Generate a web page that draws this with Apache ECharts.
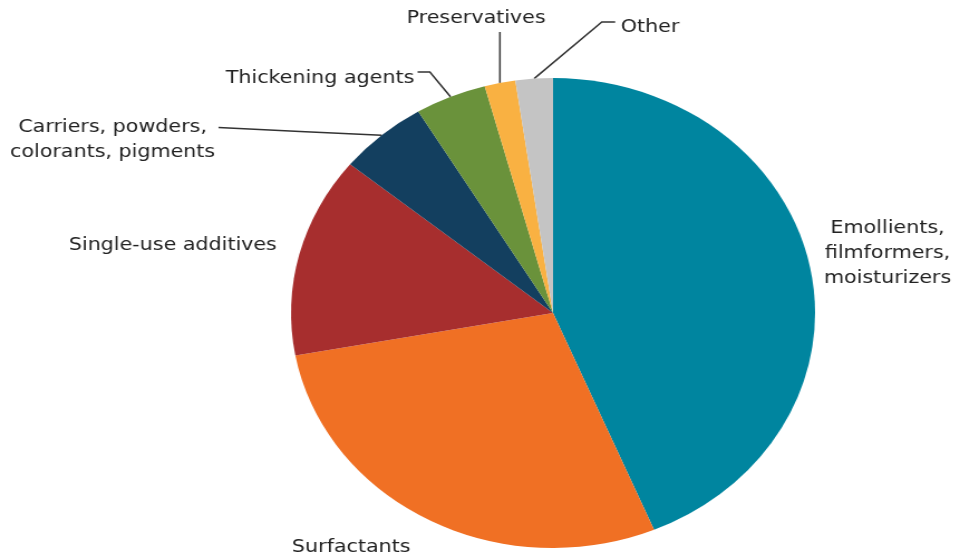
<!DOCTYPE html>
<html>
<head>
<meta charset="utf-8">
<script src="https://cdn.jsdelivr.net/npm/echarts@6/dist/echarts.min.js"></script>
<style>
  html, body { margin: 0; padding: 0; background: #ffffff; overflow: hidden; }
  #wrap { width: 961px; height: 556px; overflow: hidden; }
  #chart { width: 862px; height: 556px; transform: scaleX(1.115); transform-origin: 0 0; }
</style>
</head>
<body>
<div id="wrap"><div id="chart"></div></div>
<script>
const categories = [
  'Emollients,\nfilmformers,\nmoisturizers',
  'Surfactants',
  'Single-use additives',
  'Carriers, powders,\ncolorants, pigments',
  'Thickening agents',
  'Preservatives',
  'Other'
];
const shares = [43.7, 28.4, 13.8, 5.5, 4.4, 1.9, 2.3];
const colors = ['#00859f', '#f07024', '#a72e2e', '#133f5f', '#6a923b', '#f9b142', '#c4c4c4'];

// label anchor positions (chart coordinates, before horizontal stretch)
const labelPos = [[796, 253], [315, 547], [155, 245], [101, 140], [287, 78], [427, 18], [583, 27]];
const withLine = [false, false, false, true, true, true, true];

const chart = echarts.init(document.getElementById('chart'), null, { renderer: 'canvas' });

const data = categories.map((name, i) => ({
  name: name,
  value: shares[i],
  itemStyle: { color: colors[i] },
  labelLine: { show: withLine[i] }
}));

chart.setOption({
  animation: false,
  backgroundColor: '#ffffff',
  series: [{
    type: 'pie',
    center: [496, 313],
    radius: 235,
    startAngle: 90,
    clockwise: true,
    avoidLabelOverlap: false,
    data: data,
    itemStyle: { borderWidth: 0 },
    label: {
      show: true,
      position: 'outside',
      formatter: '{b}',
      fontFamily: 'DejaVu Sans',
      fontSize: 18.5,
      lineHeight: 25,
      color: '#222222',
      align: 'center'
    },
    labelLine: {
      show: true,
      length: 10,
      length2: 10,
      smooth: false,
      lineStyle: { color: '#333333', width: 1.5 }
    },
    labelLayout: function (params) {
      const i = params.dataIndex;
      const x = labelPos[i][0], y = labelPos[i][1];
      const w = params.labelRect.width, h = params.labelRect.height;
      const res = { x: x, y: y, align: 'center', verticalAlign: 'middle' };
      const e = params.labelLinePoints ? params.labelLinePoints[0] : null;
      if (e && withLine[i]) {
        let pts;
        if (i === 3) {
          const ex = x + w / 2 + 3, ey = y - h / 4;
          pts = [e, [(e[0] + ex) / 2, (e[1] + ey) / 2], [ex, ey]];
        } else if (i === 4) {
          const ex = x + w / 2 + 3, ey = y - 6;
          pts = [e, [ex + 11, ey], [ex, ey]];
        } else if (i === 5) {
          pts = [e, [e[0], y + 14], [e[0], y + 14]];
        } else {
          const ex = x - w / 2 - 5, ey = y - 5;
          pts = [e, [ex - 12, ey], [ex, ey]];
        }
        res.labelLinePoints = pts;
      }
      return res;
    }
  }]
});
</script>
</body>
</html>
